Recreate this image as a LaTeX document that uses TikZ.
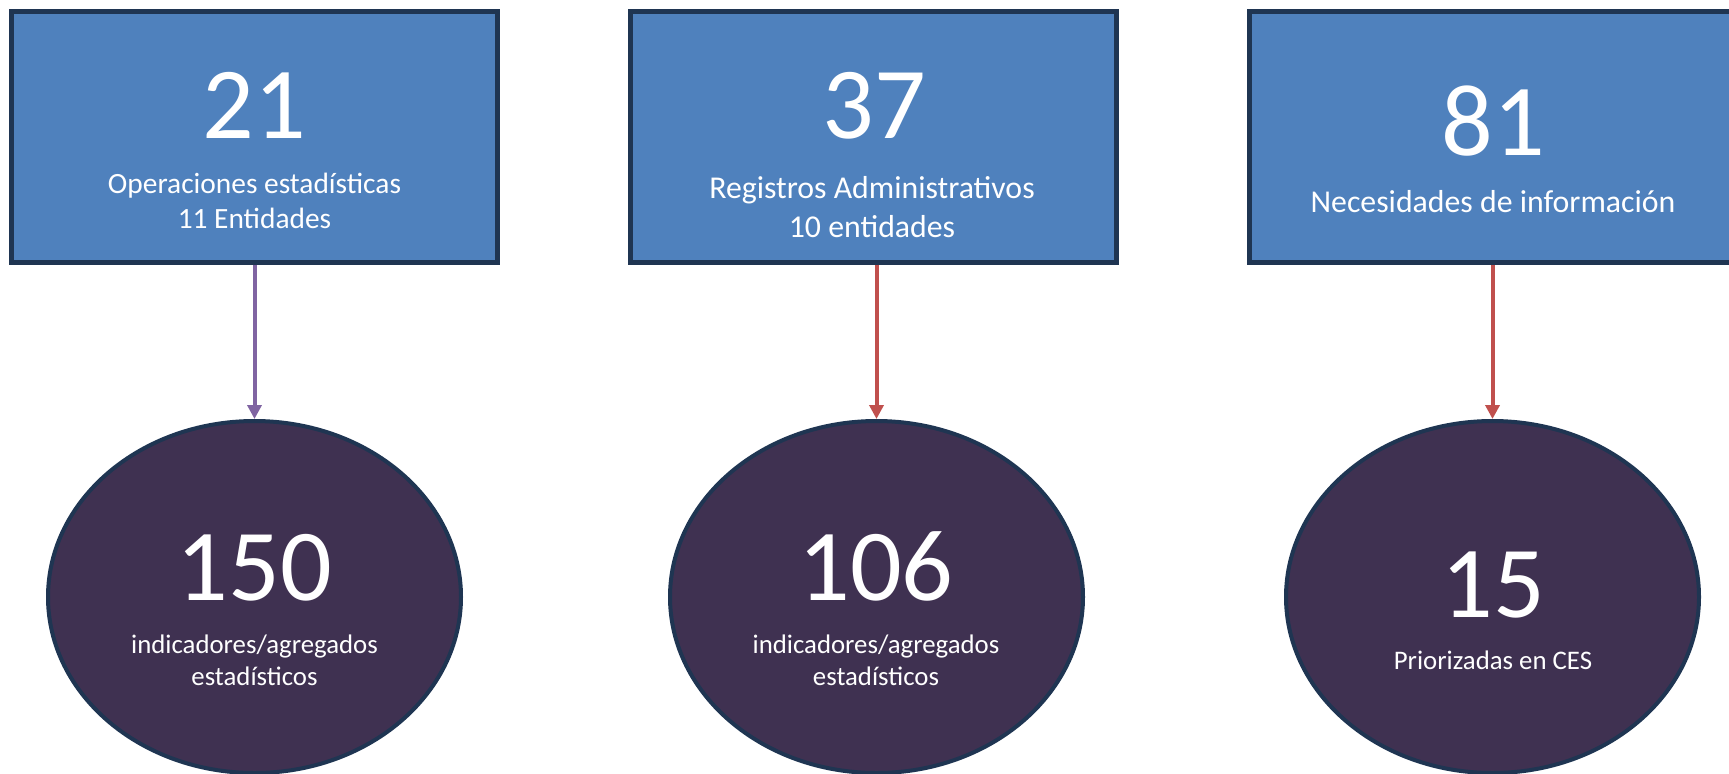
\documentclass[tikz,border=0pt]{standalone}
\usepackage{fontspec}
\setmainfont{Carlito}
\usetikzlibrary{arrows.meta,positioning,shapes.geometric}
\definecolor{cblue}{HTML}{4F81BD}
\definecolor{cnavy}{HTML}{1F3552}
\definecolor{cplum}{HTML}{3F3151}
\definecolor{cviolet}{HTML}{8064A2}
\definecolor{cred}{HTML}{C0504D}

\begin{document}
\begin{tikzpicture}[
    x=0.5pt, y=-0.5pt,
    databox/.style={draw=cnavy, line width=2.5pt, fill=cblue, minimum width=243pt,
                    minimum height=125.5pt, inner sep=0pt},
    resultoval/.style={ellipse, draw=cnavy, line width=2pt, fill=cplum, minimum width=206.5pt,
                       minimum height=176pt, inner sep=0pt},
    bignum/.style={text=white, font=\fontsize{51}{51}\selectfont, anchor=base, inner sep=0pt},
    boxcap/.style={text=white, font=\fontsize{15.9}{19.5}\selectfont, align=center, anchor=base, inner sep=0pt},
    ovalcap/.style={text=white, font=\fontsize{13.4}{16}\selectfont, align=center, anchor=base, inner sep=0pt},
    arr/.style={-{Triangle[length=7pt, width=7pt]}, line width=2pt},
]
\useasboundingbox (0,0) rectangle (1729,773);

% Top row: sources
\node[databox] (ops) at (254.5,137) {};
\node[databox, right=64pt of ops] (reg) {};
\node[databox, right=64pt of reg] (nec) {};

% Bottom row: results
\node[resultoval, below=77pt of ops] (ind1) {};
\node[resultoval, below=77pt of reg, xshift=1.5pt] (ind2) {};
\node[resultoval, below=77pt of nec] (prio) {};

% Box texts (base = last line)
\node[bignum] (n21) at (254.5,138) {21};
\node[boxcap, font=\fontsize{14.7}{17.5}\selectfont] (c21) at (254.5,228) {Operaciones estadísticas\\11 Entidades};
\node[bignum] (n37) at (874,138) {37};
\node[boxcap] (c37) at (872,237) {Registros Administrativos\\10 entidades};
\node[bignum] (n81) at (1493,155) {81};
\node[boxcap] (c81) at (1493,212) {Necesidades de información};

% Oval texts
\node[bignum] (n150) at (254.5,600) {150};
\node[ovalcap] (c150) at (254.5,685) {indicadores/agregados\\estadísticos};
\node[bignum] (n106) at (876,600) {106};
\node[ovalcap] (c106) at (876,685) {indicadores/agregados\\estadísticos};
\node[bignum] (n15) at (1493,617) {15};
\node[ovalcap] (c15) at (1493,669) {Priorizadas en CES};

% Arrows
\draw[arr, cviolet] (ops) -- (ind1);
\draw[arr, cred] (reg.south -| ind2.north) -- (ind2);
\draw[arr, cred] (nec) -- (prio);

\end{tikzpicture}
\end{document}
